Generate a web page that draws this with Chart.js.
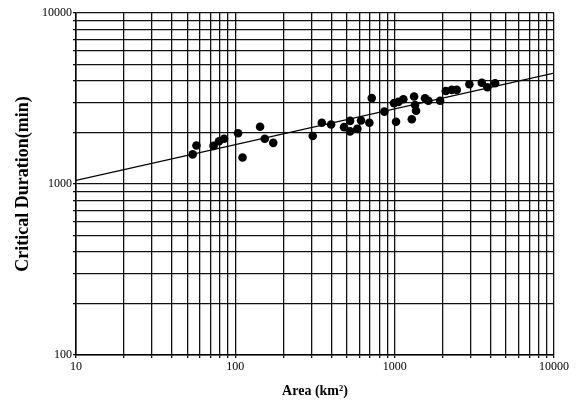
<!DOCTYPE html>
<html><head><meta charset="utf-8">
<script src="https://cdn.jsdelivr.net/npm/chart.js@4/dist/chart.umd.min.js"></script>
<style>html,body{margin:0;padding:0;background:#fff}#wrap{width:579px;height:403px}</style>
</head><body><div id="wrap"><canvas id="c" width="579" height="403"></canvas></div>
<script>
const areaKm2 = [54, 57, 73, 79, 85, 104, 111, 143, 153, 173, 306, 349, 399, 481, 525, 525, 583, 615, 694, 718, 862, 991, 1020, 1055, 1134, 1281, 1324, 1343, 1362, 1551, 1628, 1928, 2094, 2283, 2454, 2943, 3523, 3819, 4269];
const criticalDurationMin = [1490, 1680, 1670, 1780, 1840, 1980, 1430, 2160, 1840, 1740, 1910, 2280, 2230, 2150, 2340, 2030, 2100, 2350, 2280, 3180, 2650, 2970, 2310, 3020, 3130, 2390, 3250, 2900, 2680, 3170, 3070, 3070, 3500, 3550, 3550, 3830, 3910, 3680, 3880];
const fitArea = [10, 10000];
const fitDuration = [1050, 4450];
const xTickLabels = [10, 100, 1000, 10000];
const yTickLabels = [100, 1000, 10000];
const gridMultipliers = [1, 2, 3, 4, 5, 6, 7, 8, 9];

function logTicks(min, max) {
  const out = [];
  for (let d = min; d < max; d *= 10) {
    gridMultipliers.forEach(m => out.push({value: d * m}));
  }
  out.push({value: max});
  return out;
}

const serif = "'Liberation Serif', 'DejaVu Serif', serif";
const pts = areaKm2.map((a, i) => ({x: a, y: criticalDurationMin[i]}));
const fit = fitArea.map((a, i) => ({x: a, y: fitDuration[i]}));

new Chart(document.getElementById('c'), {
  type: 'scatter',
  data: {
    datasets: [
      {data: pts, pointRadius: 4.3, pointBackgroundColor: '#000', pointBorderColor: '#000', pointBorderWidth: 0, showLine: false},
      {type: 'line', data: fit, borderColor: '#000', borderWidth: 1.2, pointRadius: 0, fill: false}
    ]
  },
  options: {
    responsive: false,
    animation: false,
    events: [],
    layout: {padding: {left: 0, top: 13, right: 25, bottom: 0}},
    plugins: {legend: {display: false}, tooltip: {enabled: false}},
    scales: {
      x: {
        type: 'logarithmic', min: 10, max: 10000,
        afterBuildTicks: s => { s.ticks = logTicks(10, 10000); },
        afterFit: s => { s.height = 48; },
        grid: {color: '#111', lineWidth: 1.3, tickLength: 3, drawTicks: true},
        border: {color: '#000', width: 1.5},
        ticks: {
          autoSkip: false, maxRotation: 0, padding: 2, color: '#000',
          font: {family: serif, size: 12},
          callback: v => xTickLabels.includes(v) ? String(v) : ''
        },
        title: {display: true, text: 'Area (km²)', color: '#000',
          font: {family: serif, size: 14, weight: 'bold', lineHeight: 1.2},
          padding: {top: 0, bottom: 3}}
      },
      y: {
        type: 'logarithmic', min: 100, max: 10000,
        afterBuildTicks: s => { s.ticks = logTicks(100, 10000); },
        afterFit: s => { s.width = 76; },
        grid: {color: '#111', lineWidth: 1.3, tickLength: 3, drawTicks: true},
        border: {color: '#000', width: 1.5},
        ticks: {
          autoSkip: false, padding: 1, color: '#000',
          font: {family: serif, size: 12},
          callback: v => yTickLabels.includes(v) ? String(v) : ''
        },
        title: {display: true, text: 'Critical Duration(min)', color: '#000',
          font: {family: serif, size: 18, weight: 'bold', lineHeight: 1.2},
          padding: {top: 13, bottom: 0}}
      }
    }
  }
});
</script></body></html>
